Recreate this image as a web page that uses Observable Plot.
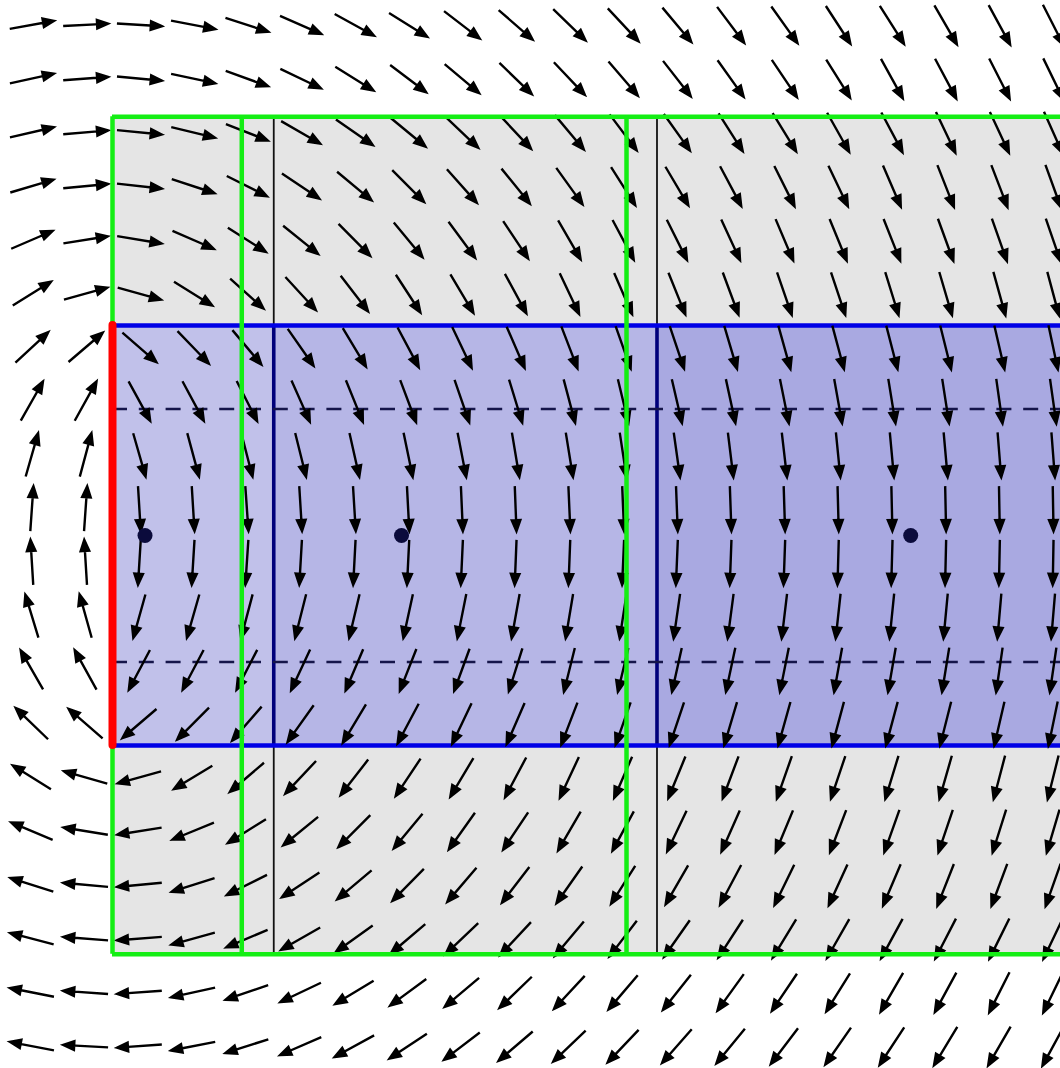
<!DOCTYPE html>
<html>
<head>
<meta charset="utf-8">
<script src="https://cdn.jsdelivr.net/npm/d3@7"></script>
<script src="https://cdn.jsdelivr.net/npm/@observablehq/plot@0.6"></script>
<style>
  html, body { margin: 0; padding: 0; background: #ffffff; }
  #chart svg { display: block; }
</style>
</head>
<body>
<div id="chart"></div>
<script>
// Sample grid of the field (grid units; the magnet's left face sits at x = 0).
const colX = [-1.5, -0.5, 0.5, 1.5, 2.5, 3.5, 4.5, 5.5, 6.5, 7.5, 8.5, 9.5, 10.5, 11.5, 12.5, 13.5, 14.5, 15.5, 16.5, 17.5];
const rowY = [9.5, 8.5, 7.5, 6.5, 5.5, 4.5, 3.5, 2.5, 1.5, 0.5, -0.5, -1.5, -2.5, -3.5, -4.5, -5.5, -6.5, -7.5, -8.5, -9.5];

// Field direction at each grid point, degrees counter-clockwise from +x, one list per row.
const dirY9_5  = [10.2, 3, -3.4, -10.7, -17.8, -23.7, -28.8, -32, -37.5, -41, -44, -47, -50, -53, -54.5, -57, -57.6, -60, -61.5, -63];
const dirY8_5  = [12.3, 4.2, -5.2, -12, -19.8, -25.6, -32, -37, -40, -44, -46.5, -49.4, -52, -54.5, -56, -58, -61, -62, -63, -64];
const dirY7_5  = [13, 4.7, -5.6, -13.6, -21.3, -30, -34.9, -39.5, -43.5, -47, -50, -53, -54.5, -57.5, -58.5, -60.7, -62, -64.5, -65, -66];
const dirY6_5  = [16.5, 5.5, -6.4, -18.3, -26.6, -33.8, -39.8, -45, -48.3, -51, -54.3, -57.6, -59.4, -62, -63.4, -64.4, -66.7, -68.5, -69, -70];
const dirY5_5  = [23.3, 9, -9.4, -23.5, -32.3, -39, -45.3, -50.4, -53.6, -56.4, -60, -62, -63.4, -65.3, -67, -67.7, -68.4, -70, -70.5, -71];
const dirY4_5  = [31.8, 15.5, -15.5, -31.8, -42, -47.4, -52.5, -57, -59.3, -61.5, -64.6, -66.5, -68, -69.6, -71, -71.6, -72.8, -73.6, -74.5, -75];
const dirY3_5  = [43, 40.5, -41, -46, -50, -55, -59, -62, -64.5, -66.5, -69, -70.5, -71.5, -73.5, -74.4, -75, -75.5, -76, -77, -78];
const dirY2_5  = [60.5, 61, -61.3, -61.7, -63, -66, -67.9, -69.4, -71, -73, -75.2, -76.5, -77, -77.8, -78.6, -79.9, -80.8, -81.2, -82, -82];
const dirY1_5  = [74, 75, -74, -74.9, -75.5, -76, -77.4, -78.3, -79, -80.5, -80.8, -81.3, -82, -83, -83.4, -84.3, -84.7, -84.9, -85.4, -85.6];
const dirY0_5  = [86, 86, -86.5, -86.5, -86, -86.5, -86.5, -87, -87.5, -87.8, -87.5, -87.6, -87.8, -88, -88.2, -88.5, -88.7, -88.8, -89, -89];
const dirYm0_5 = [93.5, 93.5, -93.5, -93.5, -93.8, -93.3, -93, -92.8, -92.6, -92.3, -92.2, -92.5, -92.4, -92.1, -92, -91.6, -91.6, -91.3, -91.2, -91];
const dirYm1_5 = [106.9, 105.6, -105.6, -106, -104.8, -104.2, -103.3, -102.2, -101.3, -100.2, -99.5, -98.8, -98.2, -97.5, -96.8, -96.2, -95.8, -95.4, -95, -94.8];
const dirYm2_5 = [119.8, 119, -118, -117.8, -117.3, -115, -113, -111.5, -110, -107.5, -104, -103.5, -102.5, -102, -101.3, -100.2, -99.8, -99.2, -98.2, -98.3];
const dirYm3_5 = [136, 139, -139.5, -135, -131, -125.5, -121, -118, -115.5, -113.5, -111, -109.5, -108.5, -106.5, -105.6, -105, -105, -104.2, -103, -101.7];
const dirYm4_5 = [147.9, 164.1, -164.6, -148.6, -139.5, -133.2, -127.8, -123.6, -120.9, -118, -115, -113.5, -112.3, -110.6, -109.4, -108.6, -107, -106, -104.7, -104];
const dirYm5_5 = [157.4, 170.8, -171, -157.7, -148, -140.9, -135, -129.8, -125.5, -123.8, -120.2, -118.4, -115.5, -114, -112.5, -111, -109.6, -108.6, -107.5, -106.5];
const dirYm6_5 = [162.3, 174.8, -174.7, -162.3, -153.4, -146.5, -139.9, -134.4, -130.5, -127.5, -125, -122.5, -120, -118, -116, -114.5, -113, -111.5, -110.5, -109.5];
const dirYm7_5 = [165.4, 175.6, -175.6, -164.6, -157.1, -150.4, -144.5, -139.6, -136.5, -133, -130, -127.5, -125, -123, -121.5, -119.7, -118.5, -117.3, -116.3, -115.5];
const dirYm8_5 = [168.9, 176, -176, -167.6, -161, -154.6, -148.7, -143.7, -139.9, -136, -133, -130.5, -128.5, -125.8, -124, -121.8, -120, -118.5, -116.8, -116];
const dirYm9_5 = [169, 176.9, -176, -168.9, -162.3, -156.6, -151.3, -146.4, -142.7, -139.5, -136.3, -133.5, -131.3, -129.3, -127.3, -124.8, -123.2, -121.2, -120, -118.5];

const dirRows = [dirY9_5, dirY8_5, dirY7_5, dirY6_5, dirY5_5, dirY4_5, dirY3_5, dirY2_5, dirY1_5, dirY0_5,
                 dirYm0_5, dirYm1_5, dirYm2_5, dirYm3_5, dirYm4_5, dirYm5_5, dirYm6_5, dirYm7_5, dirYm8_5, dirYm9_5];

// Geometry of the magnet and its surroundings (grid units).
const magnetHalf = 3.907;          // half-height of the magnet (blue)
const boxHalf = 7.79;              // half-height of the outer (green) box
const farRight = 18;               // shapes run off the right edge
const innerBoxX = [2.405, 9.563];  // inner green box, left and right sides
const dividerX = [3.0, 10.13];     // segment boundaries across the magnet
const dashedY = [2.353, -2.353];   // dashed guide lines
const centerX = [0.605, 5.377, 14.85]; // segment markers on the axis
const segments = [
  {x1: 0, x2: dividerX[0], shade: "#c1c1ea"},
  {x1: dividerX[0], x2: dividerX[1], shade: "#b6b6e6"},
  {x1: dividerX[1], x2: farRight, shade: "#a9a9e1"}
];

const field = [];
rowY.forEach((y, i) => colX.forEach((x, j) => field.push({x, y, angle: dirRows[i][j]})));

// Arrow with a filled triangular head, drawn from tail (0,0) to tip (0,-l).
const filledArrow = {
  draw(context, l) {
    const headLen = 11, headHalf = 4.3;
    context.moveTo(0, 0);
    context.lineTo(0, -l + headLen * 0.7);
    context.moveTo(0, -l);
    context.lineTo(-headHalf, -l + headLen);
    context.lineTo(headHalf, -l + headLen);
    context.closePath();
  }
};

const green = "#14ee14";

const chart = Plot.plot({
  width: 1060,
  height: 1068,
  margin: 0,
  x: {domain: [-2.0837, 17.637], axis: null},
  y: {domain: [-9.916, 9.953], axis: null},
  marks: [
    // grey box and magnet fills
    Plot.rect([{x1: 0, x2: farRight, y1: -boxHalf, y2: boxHalf}], {x1: "x1", x2: "x2", y1: "y1", y2: "y2", fill: "#e5e5e5"}),
    Plot.rect(segments, {x1: "x1", x2: "x2", y1: -magnetHalf, y2: magnetHalf, fill: "shade"}),
    // segment boundaries: thin outside the magnet, heavy navy inside
    Plot.ruleX(dividerX, {y1: -boxHalf, y2: boxHalf, stroke: "#111111", strokeWidth: 1.8}),
    Plot.ruleX(dividerX, {y1: -magnetHalf, y2: magnetHalf, stroke: "#00007a", strokeWidth: 3.6}),
    // magnet top and bottom faces
    Plot.ruleY([magnetHalf, -magnetHalf], {x1: 0, x2: farRight, stroke: "#0000e6", strokeWidth: 4.5}),
    // dashed guides
    Plot.ruleY(dashedY, {x1: 0, x2: farRight, stroke: "#15154a", strokeWidth: 2.4, strokeDasharray: "15,11.8"}),
    // field arrows
    Plot.vector(field, {
      x: "x", y: "y",
      rotate: d => 90 - d.angle,
      length: 45,
      anchor: "middle",
      shape: filledArrow,
      stroke: "#000000",
      fill: "#000000",
      strokeWidth: 2.4,
      strokeLinecap: "butt",
      strokeLinejoin: "miter"
    }),
    // green boxes
    Plot.ruleY([boxHalf, -boxHalf], {x1: 0, x2: farRight, stroke: green, strokeWidth: 4.5}),
    Plot.ruleX([0, ...innerBoxX], {y1: -boxHalf, y2: boxHalf, stroke: green, strokeWidth: 4.5}),
    // magnet left face
    Plot.ruleX([0], {y1: -magnetHalf, y2: magnetHalf, stroke: "#ff0000", strokeWidth: 8, strokeLinecap: "round"}),
    // segment markers
    Plot.dot(centerX, {x: d => d, y: 0, r: 7.5, fill: "#0b0b3c", stroke: null})
  ]
});

document.getElementById("chart").appendChild(chart);
</script>
</body>
</html>
